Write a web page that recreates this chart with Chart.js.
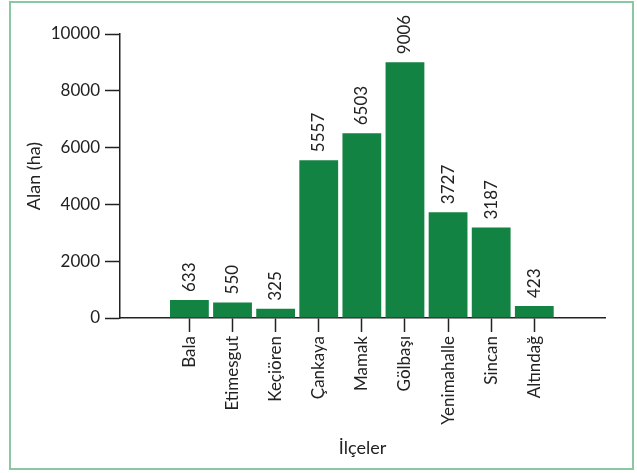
<!DOCTYPE html>
<html lang="tr">
<head>
  <meta charset="UTF-8">
  <title>İlçelere göre alan</title>
  <script src="https://cdn.jsdelivr.net/npm/chart.js"></script>
  <style>
    html, body { margin: 0; padding: 0; background: #fff; }
    #frame {
      position: absolute; left: 9px; top: 1px;
      width: 625px; height: 469px;
      box-sizing: border-box;
      border: 2px solid #8ac8a3;
    }
    #areaChart { position: absolute; left: 0; top: 0; }
  </style>
</head>
<body>
  <div id="frame"></div>
  <canvas id="areaChart" width="637" height="473"></canvas>

  <script>
    const districts = ['Bala', 'Etimesgut', 'Keçiören', 'Çankaya', 'Mamak', 'Gölbaşı', 'Yenimahalle', 'Sincan', 'Altındağ'];
    const areas = [633, 550, 325, 5557, 6503, 9006, 3727, 3187, 423];
    const yTicks = [0, 2000, 4000, 6000, 8000, 10000];

    const ink = '#222';
    const barGreen = '#138343';
    const fontFamily = 'Lato, "Open Sans", sans-serif';

    // rotated value labels above each bar
    const valueLabels = {
      id: 'valueLabels',
      afterDatasetsDraw(chart) {
        const ctx = chart.ctx;
        const meta = chart.getDatasetMeta(0);
        ctx.save();
        ctx.fillStyle = ink;
        ctx.font = '17px ' + fontFamily;
        ctx.textAlign = 'left';
        ctx.textBaseline = 'middle';
        meta.data.forEach((bar, i) => {
          ctx.save();
          ctx.translate(bar.x, bar.y - 8);
          ctx.rotate(-Math.PI / 2);
          ctx.fillText(String(areas[i]), 0, 0);
          ctx.restore();
        });
        ctx.restore();
      }
    };

    new Chart(document.getElementById('areaChart'), {
      type: 'bar',
      data: {
        datasets: [{
          data: areas.map((v, i) => ({ x: i, y: v })),
          backgroundColor: barGreen,
          borderWidth: 0,
          barPercentage: 0.9,
          categoryPercentage: 1.0
        }]
      },
      options: {
        responsive: false,
        animation: false,
        layout: { padding: { left: 0, top: 34, right: 32, bottom: 0 } },
        plugins: {
          legend: { display: false },
          tooltip: { enabled: false }
        },
        scales: {
          x: {
            type: 'linear',
            offset: false,
            min: -1.61,
            max: 9.64,
            afterBuildTicks(scale) {
              scale.ticks = districts.map((_, i) => ({ value: i }));
            },
            afterFit(scale) { scale.height = 155; },
            grid: {
              display: true,
              offset: false,
              drawOnChartArea: false,
              tickLength: 14,
              tickColor: ink,
              tickWidth: 1.5
            },
            border: { display: true, color: ink, width: 1.5 },
            ticks: {
              autoSkip: false,
              minRotation: 90,
              maxRotation: 90,
              padding: 4,
              color: ink,
              font: { family: fontFamily, size: 17 },
              callback: (v) => districts[v] ?? ''
            },
            title: {
              display: true,
              text: 'İlçeler',
              color: ink,
              font: { family: fontFamily, size: 18 },
              padding: { top: 0, bottom: 14 }
            }
          },
          y: {
            min: 0,
            max: 10000,
            afterBuildTicks(scale) {
              scale.ticks = yTicks.map(v => ({ value: v }));
            },
            afterFit(scale) { scale.width = 120; },
            grid: {
              display: true,
              drawOnChartArea: false,
              tickLength: 15,
              tickColor: ink,
              tickWidth: 1.5
            },
            border: { display: true, color: ink, width: 1.5 },
            ticks: {
              padding: 5,
              color: ink,
              font: { family: fontFamily, size: 17 },
              callback: (v) => String(v)
            },
            title: {
              display: true,
              text: 'Alan (ha)',
              color: ink,
              font: { family: fontFamily, size: 18 },
              padding: { top: 23, bottom: 0 }
            }
          }
        }
      },
      plugins: [valueLabels]
    });
  </script>
</body>
</html>
